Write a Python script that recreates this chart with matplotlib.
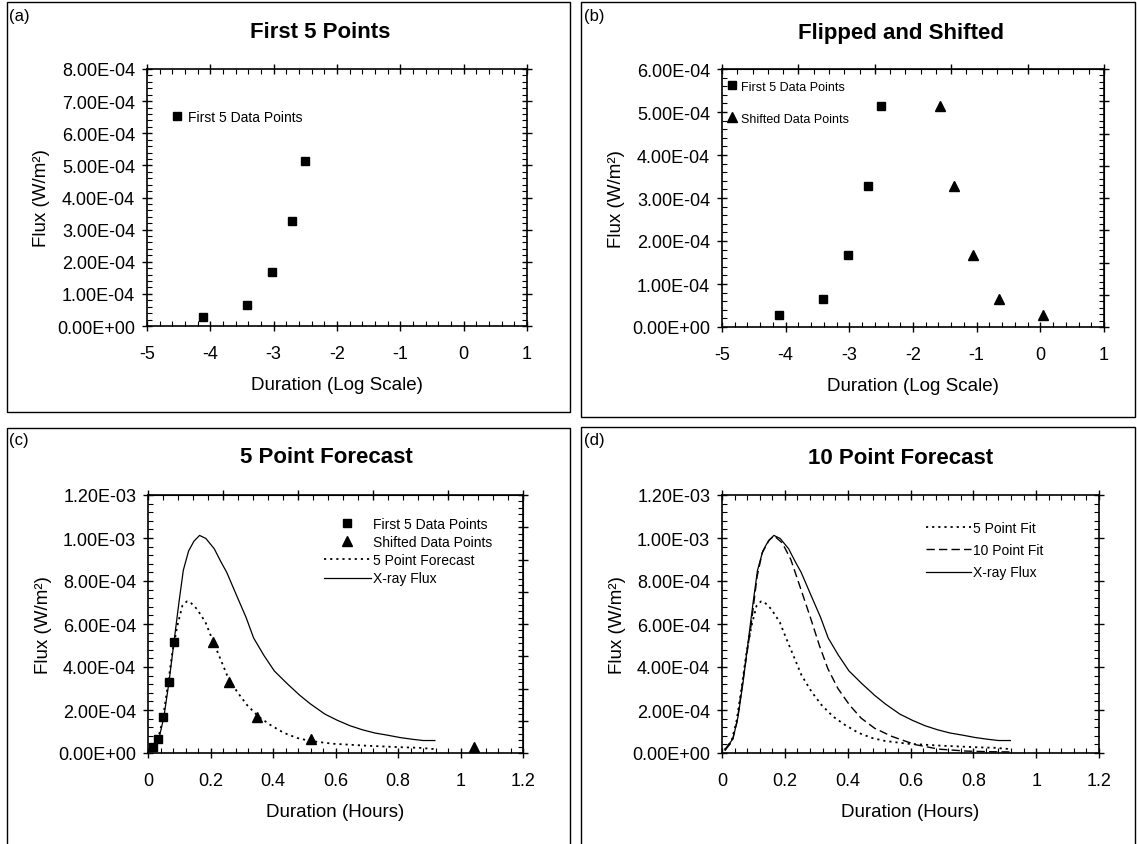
import numpy as np
import matplotlib
matplotlib.use("Agg")
import matplotlib.pyplot as plt
from matplotlib.patches import Rectangle
from matplotlib.ticker import (MultipleLocator, LinearLocator, AutoMinorLocator,
                               FuncFormatter, NullFormatter)

plt.rcParams['font.family'] = ['Liberation Sans', 'DejaVu Sans']

# first five GOES points and their mirrored copies (duration in hours)
first5_hours = [0.0164, 0.0327, 0.0488, 0.0665, 0.0821]
first5_flux = [2.8e-5, 6.6e-5, 1.68e-4, 3.28e-4, 5.14e-4]
shifted_hours = [1.042, 0.522, 0.348, 0.259, 0.207]
shifted_flux = [2.8e-5, 6.6e-5, 1.68e-4, 3.28e-4, 5.14e-4]

# observed X-ray flux
xray_hours = [0.010, 0.014, 0.035, 0.051, 0.067, 0.083, 0.099, 0.113, 0.130, 0.147,
              0.165, 0.185, 0.212, 0.232, 0.252, 0.284, 0.314, 0.338, 0.370, 0.404,
              0.445, 0.486, 0.520, 0.566, 0.606, 0.646, 0.686, 0.726, 0.766, 0.806,
              0.845, 0.881, 0.918]
xray_flux = [0.012, 0.026, 0.066, 0.169, 0.328, 0.515, 0.700, 0.850, 0.940, 0.985,
             1.012, 0.998, 0.950, 0.893, 0.840, 0.731, 0.630, 0.535, 0.456, 0.382,
             0.323, 0.268, 0.228, 0.181, 0.152, 0.127, 0.108, 0.093, 0.083, 0.072,
             0.064, 0.058, 0.058]  # x1e-3

# 5 point forecast / fit
fit5_hours = [0.008, 0.030, 0.046, 0.062, 0.078, 0.094, 0.110, 0.124, 0.134, 0.157,
              0.184, 0.205, 0.227, 0.253, 0.285, 0.317, 0.354, 0.391, 0.434, 0.477,
              0.519, 0.592, 0.699, 0.806, 0.870, 0.918]
fit5_flux = [0.015, 0.054, 0.146, 0.300, 0.469, 0.592, 0.685, 0.705, 0.703, 0.669,
             0.608, 0.531, 0.454, 0.362, 0.285, 0.223, 0.169, 0.131, 0.094, 0.070,
             0.056, 0.043, 0.034, 0.027, 0.024, 0.018]  # x1e-3

# 10 point fit
fit10_hours = [0.011, 0.032, 0.048, 0.069, 0.091, 0.112, 0.128, 0.150, 0.166, 0.192,
               0.219, 0.251, 0.283, 0.310, 0.337, 0.369, 0.406, 0.443, 0.486, 0.541,
               0.615, 0.690, 0.776, 0.850, 0.915]
fit10_flux = [0.015, 0.054, 0.146, 0.362, 0.577, 0.823, 0.931, 0.990, 1.010, 0.977,
              0.900, 0.762, 0.623, 0.500, 0.392, 0.300, 0.223, 0.162, 0.115, 0.077,
              0.039, 0.018, 0.009, 0.006, 0.005]  # x1e-3

W, H = 1137, 845
fig = plt.figure(figsize=(W / 100, H / 100), dpi=100)


def px_axes(l, t, r, b):
    return fig.add_axes([l / W, 1 - b / H, (r - l) / W, (b - t) / H])


def panel_box(l, t, r, b):
    fig.patches.append(Rectangle((l / W, 1 - b / H), (r - l) / W, (b - t) / H,
                                 transform=fig.transFigure, fill=False,
                                 edgecolor='black', linewidth=1.0))


sci = FuncFormatter(lambda v, p: f"{v:.2E}")
plain = FuncFormatter(lambda v, p: f"{v:g}")


def style(ax, xmaj, xmin, ymaj, ymin, top_n=None, right_n=None):
    ax.xaxis.set_major_locator(MultipleLocator(xmaj))
    ax.xaxis.set_minor_locator(MultipleLocator(xmin))
    ax.yaxis.set_major_locator(MultipleLocator(ymaj))
    ax.yaxis.set_minor_locator(MultipleLocator(ymin))
    ax.yaxis.set_major_formatter(sci)
    ax.xaxis.set_major_formatter(plain)
    ax.tick_params(which='major', direction='inout', length=7, width=1,
                   labelsize=13, top=top_n is None, right=right_n is None)
    ax.tick_params(which='minor', direction='in', length=3.5, width=0.8,
                   top=top_n is None, right=right_n is None)
    ax.tick_params(axis='x', pad=10)
    ax.tick_params(axis='y', pad=5)
    for s in ax.spines.values():
        s.set_linewidth(1.2)
    # odd spacing on the mirrored axes, as in the original
    if top_n is not None:
        sec = ax.secondary_xaxis('top')
        sec.xaxis.set_major_locator(LinearLocator(top_n + 1))
        sec.xaxis.set_minor_locator(AutoMinorLocator(5))
        sec.xaxis.set_major_formatter(NullFormatter())
        sec.tick_params(which='major', direction='inout', length=7, width=1)
        sec.tick_params(which='minor', direction='in', length=3.5, width=0.8)
    if right_n is not None:
        sec = ax.secondary_yaxis('right')
        sec.yaxis.set_major_locator(LinearLocator(right_n + 1))
        sec.yaxis.set_minor_locator(AutoMinorLocator(5))
        sec.yaxis.set_major_formatter(NullFormatter())
        sec.tick_params(which='major', direction='inout', length=7, width=1)
        sec.tick_params(which='minor', direction='in', length=3.5, width=0.8)


def labels(ax, xl, title, tx, ty, tag, tagx, tagy):
    ax.set_xlabel(xl, fontsize=13.5)
    ax.set_ylabel("Flux (W/m²)", fontsize=13.5)
    ax.xaxis.set_label_coords(0.5, -0.195)
    ax.yaxis.set_label_coords(-0.255, 0.5)
    fig.text(tx / W, 1 - ty / H, title, fontsize=16, fontweight='bold',
             ha='center', va='center')
    fig.text(tagx / W, 1 - tagy / H, tag, fontsize=12, ha='left', va='center')


sq = dict(marker='s', ms=5.5, color='black', linestyle='none')
tri = dict(marker='^', ms=6.5, color='black', linestyle='none')

# ---- (a)
panel_box(7, 3, 570, 413)
ax = px_axes(147, 70, 527, 327)
ax.plot(np.log(first5_hours), first5_flux, label='First 5 Data Points', **sq)
ax.set_xlim(-5, 1)
ax.set_ylim(0, 8e-4)
style(ax, 1, 0.2, 1e-4, 2e-5)
labels(ax, "Duration (Log Scale)", "First 5 Points", 320, 33, "(a)", 9, 17)
ax.legend(loc='upper left', bbox_to_anchor=(0.06, 0.84), frameon=False,
          fontsize=10, handlelength=1, handletextpad=0.3, borderpad=0,
          borderaxespad=0, numpoints=1)

# ---- (b)
panel_box(581, 3, 1135, 418)
ax = px_axes(722, 70, 1104, 328)
ax.plot(np.log(first5_hours), first5_flux, label='First 5 Data Points', **sq)
ax.plot(np.log(shifted_hours), shifted_flux, label='Shifted Data Points', **tri)
ax.set_xlim(-5, 1)
ax.set_ylim(0, 6e-4)
style(ax, 1, 0.2, 1e-4, 2e-5, top_n=5, right_n=8)
labels(ax, "Duration (Log Scale)", "Flipped and Shifted", 901, 33, "(b)", 584, 17)
ax.legend(loc='upper left', bbox_to_anchor=(0.01, 0.955), frameon=False,
          fontsize=9, handlelength=1, handletextpad=0.2, borderpad=0,
          borderaxespad=0, labelspacing=1.6, numpoints=1)

# ---- (c)
panel_box(7, 429, 570, 848)
ax = px_axes(148, 496, 523, 754)
ax.plot(first5_hours, first5_flux, label='First 5 Data Points', **sq)
ax.plot(shifted_hours, shifted_flux, label='Shifted Data Points', **tri)
ax.plot(fit5_hours, np.array(fit5_flux) * 1e-3, color='black', lw=1.3,
        linestyle=(0, (1.2, 2.2)), label='5 Point Forecast')
ax.plot(xray_hours, np.array(xray_flux) * 1e-3, color='black', lw=0.9,
        label='X-ray Flux')
ax.set_xlim(0, 1.2)
ax.set_ylim(0, 1.2e-3)
style(ax, 0.2, 0.04, 2e-4, 4e-5, top_n=5, right_n=8)
labels(ax, "Duration (Hours)", "5 Point Forecast", 326, 458, "(c)", 9, 441)
ax.legend(loc='upper left', bbox_to_anchor=(0.469, 0.915), frameon=False,
          fontsize=10, handlelength=3.4, handletextpad=0.15, borderpad=0,
          borderaxespad=0, labelspacing=0.3, numpoints=1)

# ---- (d)
panel_box(581, 428, 1135, 848)
ax = px_axes(722, 496, 1099, 754)
ax.plot(fit5_hours, np.array(fit5_flux) * 1e-3, color='black', lw=1.3,
        linestyle=(0, (1.2, 2.2)), label='5 Point Fit')
ax.plot(fit10_hours, np.array(fit10_flux) * 1e-3, color='black', lw=1.0,
        linestyle=(0, (6, 3)), label='10 Point Fit')
ax.plot(xray_hours, np.array(xray_flux) * 1e-3, color='black', lw=0.9,
        label='X-ray Flux')
ax.set_xlim(0, 1.2)
ax.set_ylim(0, 1.2e-3)
style(ax, 0.2, 0.04, 2e-4, 4e-5)
labels(ax, "Duration (Hours)", "10 Point Forecast", 901, 459, "(d)", 584, 441)
ax.legend(loc='upper left', bbox_to_anchor=(0.54, 0.9), frameon=False,
          fontsize=10, handlelength=3.3, handletextpad=0.15, borderpad=0,
          borderaxespad=0, labelspacing=0.6)

fig.savefig("out.png", dpi=100)
